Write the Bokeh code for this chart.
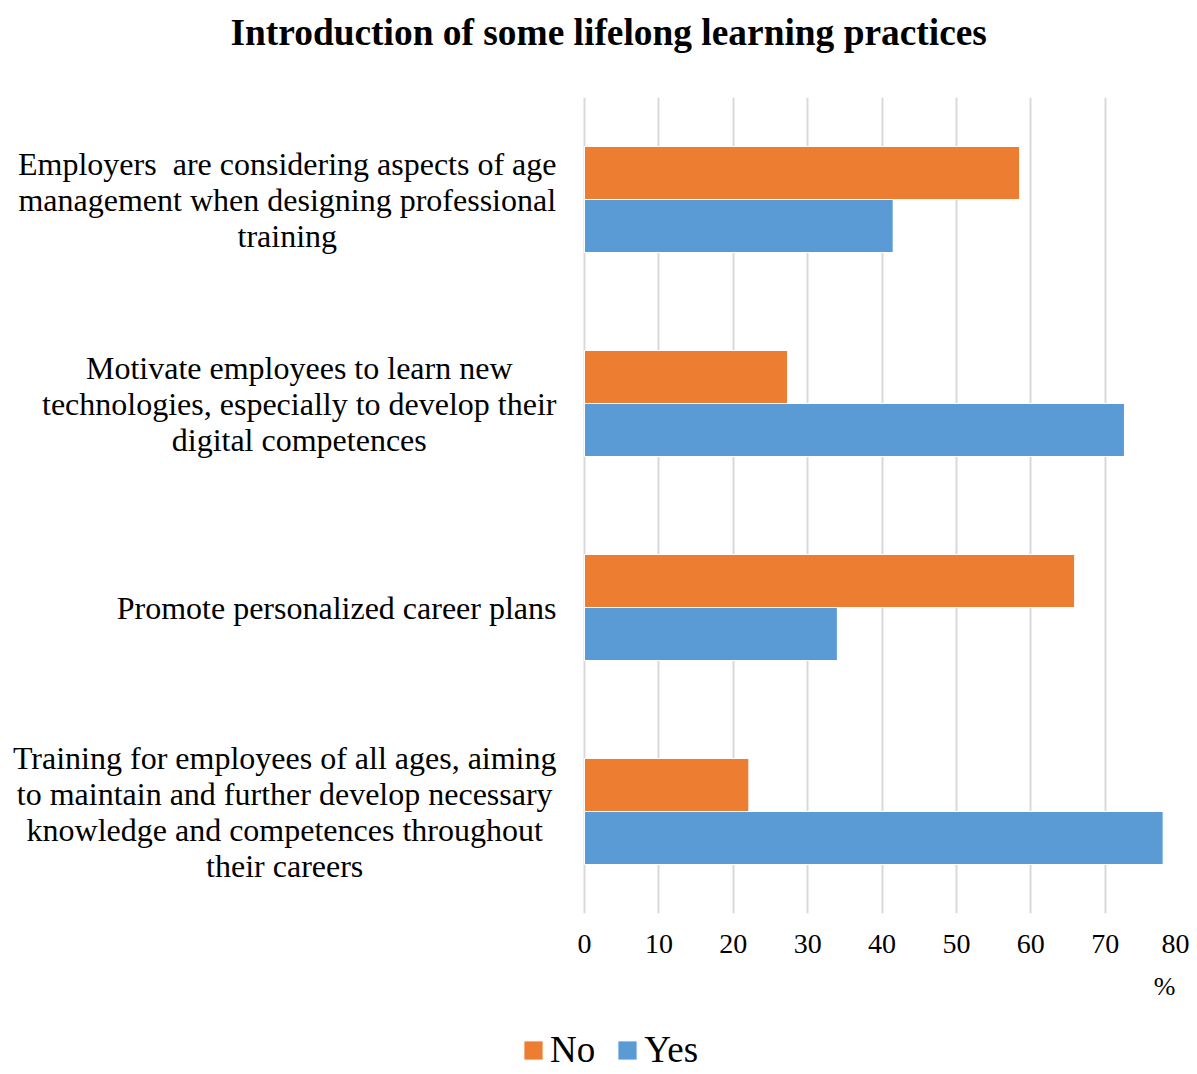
from bokeh.plotting import figure
from bokeh.models import (Range1d, FactorRange, FixedTicker, Legend, LegendItem,
                          Title, ColumnDataSource)
from bokeh.core.properties import value
from bokeh.transform import dodge
from bokeh.layouts import column
from bokeh.embed import file_html
from bokeh.resources import INLINE

# ---- data (top to bottom as in the chart) ----
title_text = "Introduction of some lifelong learning practices"
categories = [
    "Employers \u00a0are considering aspects of age\nmanagement when designing professional\ntraining",
    "Motivate employees to learn new\ntechnologies, especially to develop their\ndigital competences",
    "Promote personalized career plans",
    "Training for employees of all ages, aiming\nto maintain and further develop necessary\nknowledge and competences throughout\ntheir careers",
]
no_values = [58.5, 27.3, 65.9, 22.1]
yes_values = [41.5, 72.6, 34.0, 77.8]
series_names = ["No", "Yes"]
x_ticks = [0, 10, 20, 30, 40, 50, 60, 70, 80]
x_max = 80
unit_text = "%"

FONT = "Liberation Serif"
ORANGE = "#ED7D31"
BLUE = "#5B9BD5"

# layout (pixels)
LABEL_AREA = 584    # space left of the value 0
PLOT_W = 595        # px from 0 to x_max
FRAME_H = 816
RIGHT = 10

src = ColumnDataSource(dict(cat=categories, no=no_values, yes=yes_values,
                            base=[0] * len(categories)))

x_start = -x_max * LABEL_AREA / PLOT_W

p = figure(
    frame_width=LABEL_AREA + PLOT_W, frame_height=FRAME_H,
    y_range=FactorRange(factors=list(reversed(categories))),
    x_range=Range1d(x_start, x_max),
    y_axis_location=None,
    output_backend="svg", toolbar_location=None,
    min_border_left=0, min_border_right=RIGHT, min_border_top=97, min_border_bottom=0,
)

# second (blank) line keeps the title high above the frame
p.title.text = title_text + "\n\u00a0"
p.title.text_font = FONT
p.title.text_font_size = "37.4px"
p.title.text_font_style = "bold"
p.title.align = "left"
p.title.offset = 230
p.title.vertical_align = "bottom"
p.title.text_color = "black"
p.title.standoff = 8

r_no = p.hbar(y=dodge("cat", 0.13, range=p.y_range), left="base", right="no", height=0.26,
              source=src, fill_color=ORANGE, line_color="white", line_width=1)
r_yes = p.hbar(y=dodge("cat", -0.13, range=p.y_range), left="base", right="yes", height=0.26,
               source=src, fill_color=BLUE, line_color="white", line_width=1)

p.text(x="base", y="cat", text="cat", source=src, anchor="center_right",
       text_align="center", text_baseline="middle", x_offset=-28,
       text_font=value(FONT), text_font_size="32px", text_color="black",
       text_line_height=1.0)

p.outline_line_color = None
p.ygrid.grid_line_color = None
p.xgrid.grid_line_color = "#d9d9d9"
p.xgrid.grid_line_width = 2

p.xaxis.ticker = FixedTicker(ticks=x_ticks)
p.xaxis.axis_line_color = None
p.xaxis.major_tick_line_color = None
p.xaxis.major_tick_out = 0
p.xaxis.major_tick_in = 0
p.xaxis.minor_tick_line_color = None
p.xaxis.major_label_text_font = FONT
p.xaxis.major_label_text_font_size = "28px"
p.xaxis.major_label_text_color = "black"
p.xaxis.major_label_standoff = 21

unit = Title(text=unit_text, align="right", text_font=FONT, text_font_size="26px",
             text_font_style="normal", text_color="black", offset=4, standoff=28)
p.add_layout(unit, "below")

# ---- legend strip below the chart ----
LEG_H = 58
p2 = figure(frame_width=LABEL_AREA + PLOT_W, frame_height=LEG_H,
            x_range=Range1d(0, 1), y_range=Range1d(0, 1),
            x_axis_location=None, y_axis_location=None,
            output_backend="svg", toolbar_location=None,
            min_border_left=0, min_border_right=RIGHT, min_border_top=0, min_border_bottom=0)
p2.outline_line_color = None
p2.grid.grid_line_color = None
# hidden copies of the two series, only used to draw the legend swatches
l_no = p2.hbar(y="base", left="base", right="no", height=0.26, source=src,
               fill_color=ORANGE, line_color="white", visible=False)
l_yes = p2.hbar(y="base", left="base", right="yes", height=0.26, source=src,
                fill_color=BLUE, line_color="white", visible=False)

legend = Legend(items=[LegendItem(label=series_names[0], renderers=[l_no]),
                       LegendItem(label=series_names[1], renderers=[l_yes])],
                orientation="horizontal", location=(521, 1),
                label_text_font=FONT, label_text_font_size="37px", label_text_color="black",
                glyph_width=24, glyph_height=24, label_standoff=5, spacing=20,
                inactive_fill_alpha=0,
                border_line_color=None, background_fill_alpha=0, padding=0, margin=0)
p2.add_layout(legend, "center")

open("out.html", "w").write(file_html(column(p, p2, spacing=0), INLINE))
